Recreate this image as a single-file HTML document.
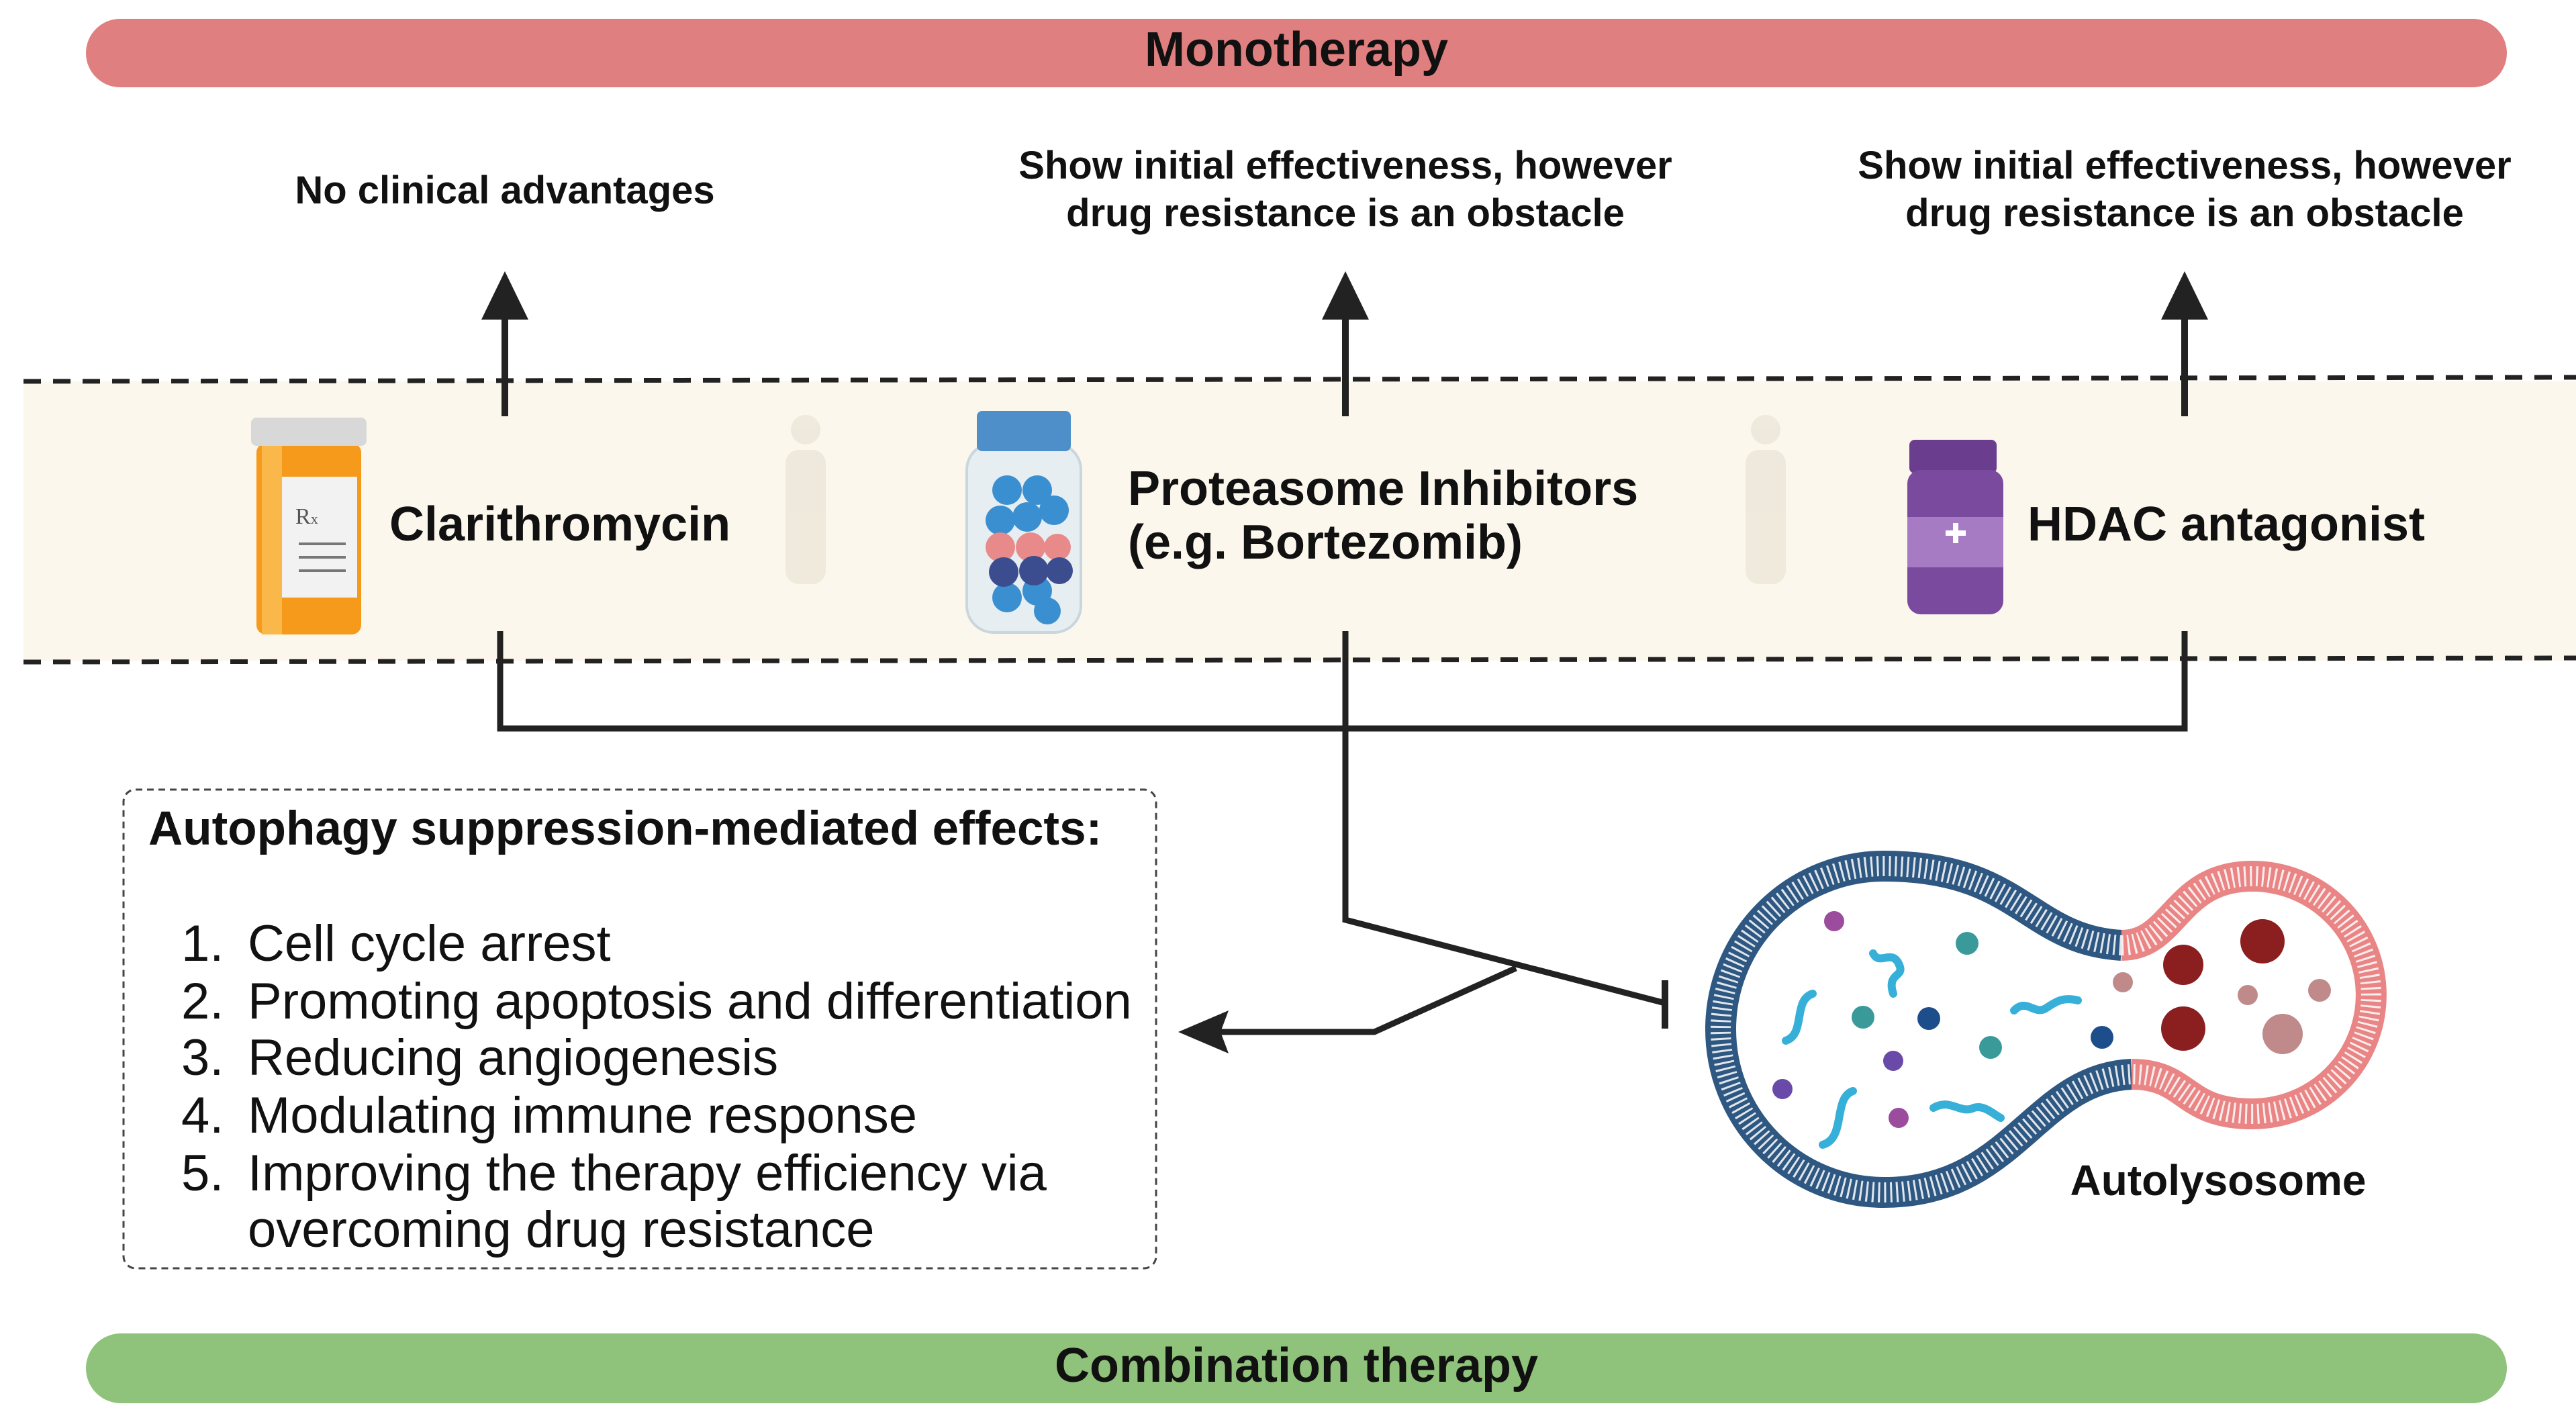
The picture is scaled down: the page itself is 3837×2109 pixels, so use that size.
<!DOCTYPE html>
<html><head><meta charset="utf-8"><style>
html,body{margin:0;padding:0;background:#fff;}
svg{display:block;font-family:"Liberation Sans",Arial,sans-serif;}
</style></head><body>
<svg width="3837" height="2109" viewBox="0 0 3837 2109" xmlns="http://www.w3.org/2000/svg">
<!-- bars -->
<rect x="128" y="28" width="3606" height="102" rx="51" fill="#e07f7f"/>
<text x="1931" y="98" font-size="72" font-weight="bold" text-anchor="middle" fill="#111">Monotherapy</text>
<rect x="128" y="1986" width="3606" height="104" rx="52" fill="#8fc27a"/>
<text x="1931" y="2058" font-size="72" font-weight="bold" text-anchor="middle" fill="#111">Combination therapy</text>

<!-- band -->
<rect x="35" y="568" width="3802" height="416" fill="#fcf7ec"/>
<line x1="35" y1="568" x2="3837" y2="562" stroke="#222" stroke-width="7" stroke-dasharray="26 18"/>
<line x1="35" y1="986" x2="3837" y2="980" stroke="#222" stroke-width="7" stroke-dasharray="26 18"/>

<!-- top texts -->
<g font-size="58" font-weight="bold" fill="#111" text-anchor="middle">
<text x="752" y="303">No clinical advantages</text>
<text x="2004" y="266">Show initial effectiveness, however</text>
<text x="2004" y="337">drug resistance is an obstacle</text>
<text x="3254" y="266">Show initial effectiveness, however</text>
<text x="3254" y="337">drug resistance is an obstacle</text>
</g>
<!-- up arrows -->
<g stroke="#222" stroke-width="10" fill="#222">
<line x1="752" y1="620" x2="752" y2="450"/>
<line x1="2004" y1="620" x2="2004" y2="450"/>
<line x1="3254" y1="620" x2="3254" y2="450"/>
</g>
<g fill="#222">
<polygon points="717,476 752,404 787,476"/>
<polygon points="1969,476 2004,404 2039,476"/>
<polygon points="3219,476 3254,404 3289,476"/>
</g>

<!-- faint patients -->
<g fill="#ece6da" opacity="0.8">
<circle cx="1200" cy="640" r="22"/><rect x="1170" y="670" width="60" height="200" rx="20"/>
<circle cx="2630" cy="640" r="22"/><rect x="2600" y="670" width="60" height="200" rx="20"/>
</g>

<!-- Clarithromycin bottle -->
<rect x="382" y="660" width="156" height="285" rx="14" fill="#f59a1a"/>
<rect x="390" y="660" width="30" height="285" fill="#fbb84a"/>
<rect x="374" y="622" width="172" height="42" rx="8" fill="#d8d8d8"/>
<rect x="420" y="710" width="112" height="180" fill="#f2f2f2"/>
<text x="440" y="780" font-size="34" fill="#555" font-family="Liberation Serif,serif">R<tspan font-size="22">x</tspan></text>
<g stroke="#777" stroke-width="4"><line x1="445" y1="810" x2="515" y2="810"/><line x1="445" y1="830" x2="515" y2="830"/><line x1="445" y1="850" x2="515" y2="850"/></g>
<text x="580" y="805" font-size="72" font-weight="bold" fill="#111">Clarithromycin</text>

<!-- Proteasome bottle -->
<rect x="1440" y="660" width="170" height="282" rx="40" fill="#e6eef2" stroke="#c9d6de" stroke-width="4"/>
<rect x="1455" y="612" width="140" height="60" rx="8" fill="#4f8fc9"/>
<g fill="#3a8fd0">
<circle cx="1500" cy="730" r="22"/><circle cx="1545" cy="730" r="22"/><circle cx="1570" cy="760" r="22"/>
<circle cx="1490" cy="775" r="22"/><circle cx="1530" cy="770" r="22"/>
<circle cx="1500" cy="890" r="22"/><circle cx="1545" cy="880" r="22"/><circle cx="1560" cy="910" r="20"/>
</g>
<g fill="#e98a8a"><circle cx="1490" cy="815" r="22"/><circle cx="1535" cy="815" r="22"/><circle cx="1575" cy="815" r="20"/></g>
<g fill="#3b4d8f"><circle cx="1495" cy="852" r="22"/><circle cx="1540" cy="850" r="22"/><circle cx="1578" cy="850" r="20"/></g>
<text x="1680" y="752" font-size="72" font-weight="bold" fill="#111">Proteasome Inhibitors</text>
<text x="1680" y="832" font-size="72" font-weight="bold" fill="#111">(e.g. Bortezomib)</text>

<!-- HDAC bottle -->
<rect x="2844" y="655" width="130" height="50" rx="8" fill="#6a3d8f"/>
<rect x="2841" y="700" width="143" height="215" rx="20" fill="#7a4a9e"/>
<rect x="2841" y="770" width="143" height="75" fill="#a77ac4"/>
<rect x="2898" y="790" width="30" height="8" fill="#fff"/>
<rect x="2909" y="779" width="8" height="30" fill="#fff"/>
<text x="3020" y="805" font-size="72" font-weight="bold" fill="#111">HDAC antagonist</text>

<!-- bracket connectors -->
<g stroke="#222" stroke-width="9" fill="none" stroke-linejoin="miter">
<polyline points="745,940 745,1085 3254,1085 3254,940"/>
<polyline points="2004,940 2004,1370 2480,1494"/>
<line x1="2480" y1="1460" x2="2480" y2="1532" stroke-width="10"/>
<polyline points="2258,1442 2047,1537 1800,1537"/>
</g>
<polygon points="1755,1537 1830,1505 1818,1537 1830,1569" fill="#222"/>

<!-- dashed box -->
<rect x="184" y="1176" width="1538" height="713" rx="18" fill="none" stroke="#444" stroke-width="3" stroke-dasharray="10 7"/>
<text x="221" y="1258" font-size="71" font-weight="bold" fill="#111">Autophagy suppression-mediated effects:</text>
<g font-size="76" fill="#111">
<text x="270" y="1431">1.</text><text x="369" y="1431">Cell cycle arrest</text>
<text x="270" y="1517">2.</text><text x="369" y="1517">Promoting apoptosis and differentiation</text>
<text x="270" y="1601">3.</text><text x="369" y="1601">Reducing angiogenesis</text>
<text x="270" y="1687">4.</text><text x="369" y="1687">Modulating immune response</text>
<text x="270" y="1773">5.</text><text x="369" y="1773">Improving the therapy efficiency via</text>
<text x="369" y="1857">overcoming drug resistance</text>
</g>

<!-- autolysosome -->
<g fill="none">
<path d="M3160 1408 C3020 1400 3010 1290 2806 1290 A243 243 0 0 0 2806 1776 C3000 1776 3030 1606 3175 1600" stroke="#2e5882" stroke-width="46"/>
<path d="M3160 1408 C3020 1400 3010 1290 2806 1290 A243 243 0 0 0 2806 1776 C3000 1776 3030 1606 3175 1600" stroke="#ffffff" stroke-width="30" stroke-dasharray="3 6" opacity="0.85"/>
<path d="M3160 1408 C3240 1408 3240 1305 3355 1305 A177 177 0 0 1 3355 1659 C3250 1659 3260 1600 3175 1600" stroke="#ea8585" stroke-width="46"/>
<path d="M3160 1408 C3240 1408 3240 1305 3355 1305 A177 177 0 0 1 3355 1659 C3250 1659 3260 1600 3175 1600" stroke="#ffffff" stroke-width="30" stroke-dasharray="3 6" opacity="0.85"/>
</g>
<g stroke="#36b0d8" stroke-width="12" fill="none" stroke-linecap="round">
<path d="M2790 1420 c10 20 30 -10 40 20 c5 15 -20 10 -10 40"/>
<path d="M2700 1480 c-30 10 -10 60 -40 70"/>
<path d="M3000 1505 c20 -20 30 10 50 -5 c15 -10 25 -15 45 -10"/>
<path d="M2760 1625 c-30 10 -10 70 -45 80"/>
<path d="M2880 1650 c25 -15 40 10 60 0 c15 -5 30 10 40 15"/>
</g>
<g>
<circle cx="2930" cy="1405" r="17" fill="#3a9a9a"/><circle cx="2775" cy="1515" r="17" fill="#3a9a9a"/><circle cx="2965" cy="1560" r="17" fill="#3a9a9a"/>
<circle cx="2873" cy="1517" r="17" fill="#1d4d8a"/><circle cx="3131" cy="1545" r="17" fill="#1d4d8a"/>
<circle cx="2732" cy="1372" r="15" fill="#9c4c9c"/><circle cx="2820" cy="1580" r="15" fill="#6a4aa8"/><circle cx="2655" cy="1622" r="15" fill="#6a4aa8"/><circle cx="2828" cy="1665" r="15" fill="#9c4c9c"/>
</g>
<g>
<circle cx="3252" cy="1437" r="30" fill="#8b1e1e"/><circle cx="3370" cy="1402" r="33" fill="#8b1e1e"/><circle cx="3252" cy="1532" r="33" fill="#8b1e1e"/>
<circle cx="3162" cy="1463" r="15" fill="#c08a8a"/><circle cx="3348" cy="1482" r="15" fill="#c08a8a"/><circle cx="3455" cy="1475" r="17" fill="#c08a8a"/><circle cx="3400" cy="1540" r="30" fill="#c08a8a"/>
</g>
<text x="3304" y="1780" font-size="64" font-weight="bold" fill="#111" text-anchor="middle">Autolysosome</text>
</svg>
</body></html>
